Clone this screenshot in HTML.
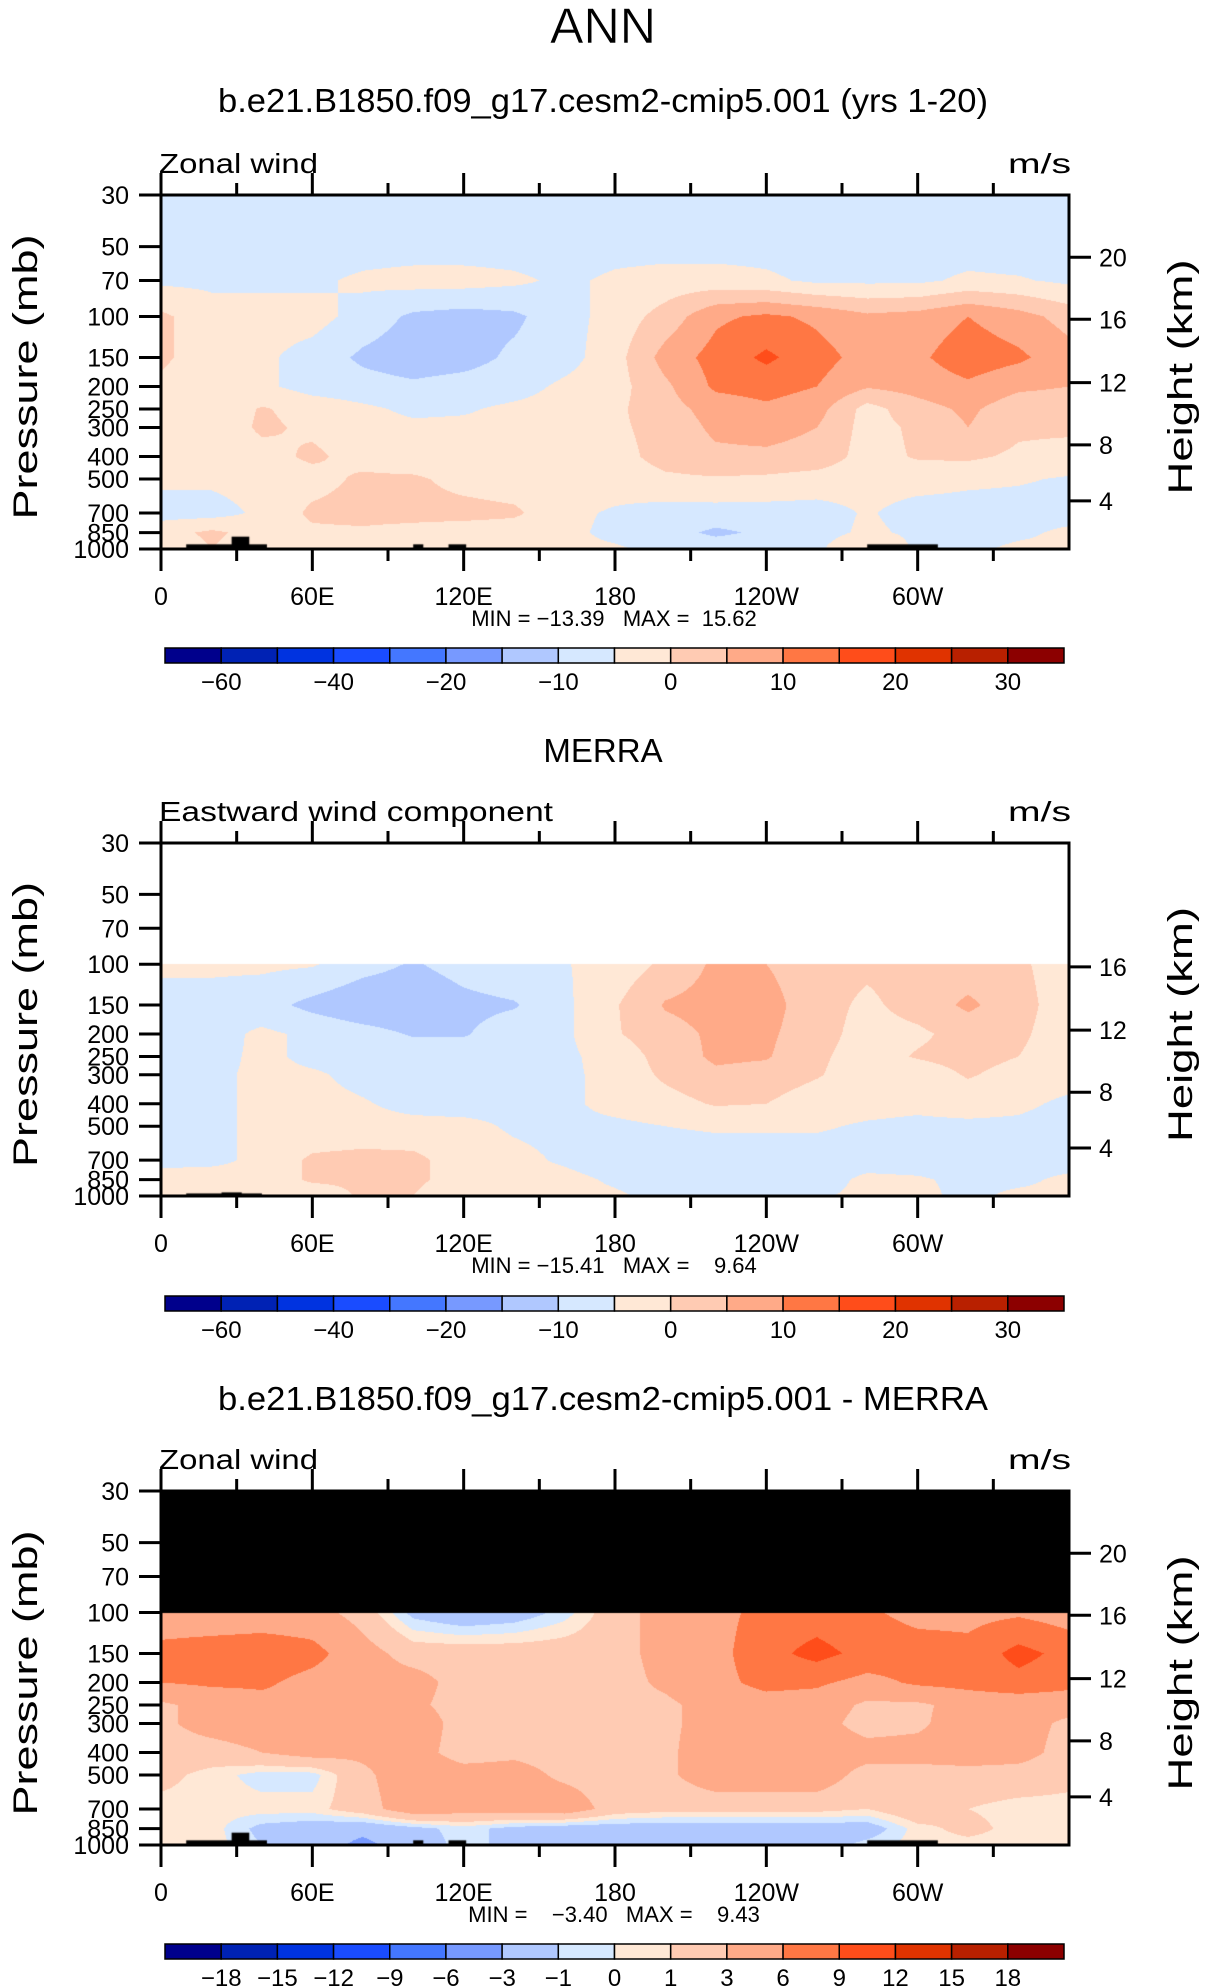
<!DOCTYPE html>
<html><head><meta charset="utf-8">
<style>
html,body{margin:0;padding:0;background:#fff;}
#root{position:relative;width:1206px;height:1987px;overflow:hidden;background:#fff;}
canvas{position:absolute;}
svg{position:absolute;left:0;top:0;}
text{font-family:"Liberation Sans",sans-serif;fill:#000;}
</style></head>
<body>
<div id="root">
<canvas id="c1"></canvas>
<canvas id="c2"></canvas>
<canvas id="c3"></canvas>
<svg id="ov" width="1206" height="1987" xmlns="http://www.w3.org/2000/svg"></svg>
</div>
<script>
// ---------- data ----------
const lons = [0,20,40,60,80,100,120,140,160,180,200,220,240,260,280,300,320,340,360];
const p1Levels = [30,50,70,100,150,200,250,300,400,500,700,850,1000];
const p1Values = [
 [-3,-3,-3,-3,-3,-3,-3,-3,-3,-3,-3,-3,-3,-3,-3,-3,-3,-3,-3],
 [-3,-3,-3,-3,-2.5,-2.5,-2.5,-2.5,-3,-2,-2,-2,-2,-3,-3,-3,-2.5,-3,-3],
 [-1,-1,-1,-1,1,2,2,1,-1,1,2,2,1,-1,-1,-1,1,0.5,-1],
 [6,2,2,2,-2,-6,-7,-6,-2,2,7,14,16,14,11,12,15,12,8],
 [6,2,1,-2,-6,-8,-7,-4,-2,3,12,17,21,17,13,14,18,16,12],
 [4,1,1,-2,-3,-4,-3,-2,1,3,9,16,17,15,10.5,12,14,11,10],
 [2,1,5.5,3,1,-1,-0.5,1,2,4,8,12,14,12,3,8,11,7,7],
 [2,1,6,4,2,1,1,1,2,4,7,11,12,10,3,6,10,6,6],
 [2,1,3,6,3,1,1,2,2,3,7,9,9,8,3,5.5,6,4,3],
 [1,1,2,3,6,6,3,2,2,2,4,4.5,4,3,2,2,1,0.5,-0.5],
 [-2,-2,1,6,7,7,7,6,1,-0.5,-2,-2,-2,-2,0.5,-2,-2,-2,-2],
 [3,6,3,4,4,3,2,2,1,-1,-3,-6,-4,-2,1,-1,-2,-1,1],
 [1,5,2,2,2,1,1,1,1,0.5,-1,-2,-2,-1,5.5,-1,-1,1,1]
];
const p2Levels = [100,150,200,250,300,400,500,700,850,1000];
const p2Values = [
 [1,1,1,0.5,-3,-5.5,-3,-1,-0.3,2,6,11,10,7,6,7,7,6,2],
 [-2,-2,-3,-6.5,-9,-9,-6.5,-5.5,-1,4.5,10.5,12,12,7,4,7,11,7,2],
 [-2,-2,1,-1,-3,-5.5,-5.5,-2,-1,4.5,8,11,11,7,3,4,7,6,2],
 [-2,-1.5,1,-1,-1,-2,-2,-2,-1,2,7,11,10.5,6,2.5,5.5,7,5,2],
 [-2,-1,1,0.5,-1,-2,-2,-2,-1,1.5,6,9,8,5.5,2,2,5.5,3,2],
 [-1.5,-1,1,1,0.3,-1,-1.5,-1,-1,1.5,3,5.5,5,2,1.5,1,2,1,-1],
 [-2,-1,1,1,1,1,1,-0.5,-1,-1,0,0.5,0.5,0.5,-0.5,-1,-1,-1,-2],
 [-2,-1,1,6,7,6.5,2,1,-0.5,-2,-2,-2,-2,-2,-2,-2,-2,-2,-2],
 [3,2,1,6,6,6,3,1,1,-0.5,-2,-2,-2,-2,1,0.5,-1,-1,1],
 [3,3,1,1,6,5,1,1,1,0.5,-1,-1,-1,-0.5,1,1,-1,1,1]
];
const p3Levels = [100,150,200,250,300,400,500,700,850,1000];
const p3Values = [
 [4,4,4,4,2,-1.5,-2.5,-2,-0.5,2,4,5,7,7.5,6.5,5,5,5.5,4.5],
 [7,7.5,8,7,4,2,2,2,2,2,4,5,8,10,8,7.5,7,10,8],
 [6,6.5,6.5,5,4,4,2,2,2,2,3.5,5,7,6.5,5,6.5,7,8,7],
 [2.5,4,5,5.5,4.5,3.5,2,2,2,2,2.5,4,4.5,4.5,2.5,2.5,4,4,4],
 [2.5,4,4.5,5,5,4.5,2,2,2,2,2.5,4,4,4,2,2.5,4.5,4,2.5],
 [2,2,3,4,3.5,4,2,2.5,2,2,2.5,4.5,4.5,4.5,4,4,4.5,4,2],
 [1.5,0.5,-0.5,-0.5,2.5,4.5,4,4,2.5,2,2.5,4.5,4.5,4.5,2,2,2,2,1.5],
 [0.5,0.5,0.5,0.5,2,4.5,4,4,4.5,2,1.5,1.5,1.5,1.5,1,2.5,1,0.5,0.5],
 [1,0.5,-1.5,-2,-2.5,-1.5,-0.5,-1.5,-2,-2,-2,-2,-2,-2,-2,0.5,1.5,0.5,0.5],
 [0.5,0.5,-1,-2,-3.5,-2,-0.5,-1.5,-2,-2,-2,-2,-2.5,-2,-0.5,0.5,0.5,0.5,0.5]
];
const absBounds = [-50,-40,-30,-20,-15,-10,-5,0,5,10,15,20,25,30,40];
const absLabels = ["-60","","-40","","-20","","-10","","0","","10","","20","","30"];
const diffBounds = [-18,-15,-12,-9,-6,-3,-1,0,1,3,6,9,12,15,18];
const diffLabels = ["-18","-15","-12","-9","-6","-3","-1","0","1","3","6","9","12","15","18"];
const topoLon0 = [10,28,100,114,280,2,24];
const topoLon1 = [42,35,104,121,308,0,0];
const topoTopP = [955,885,955,955,955,0,0];
const pTicks = [30,50,70,100,150,200,250,300,400,500,700,850,1000];
const kmTicks = [20,16,12,8,4];
const kmFrac = [0.176,0.351,0.53,0.706,0.864];
const xTickLabels = ["0","60E","120E","180","120W","60W"];
// ---------- styles ----------
const cmap = ["#00008c","#0022b4","#0033e0","#1a4cff","#4477ff","#7799ff","#b0c8ff","#d6e8ff","#ffe8d6","#ffcbb3","#ffaa88","#ff7744","#ff4d1a","#e03300","#b82000","#8c0000"];
const X0=161, X1=1069, W=X1-X0;
const panels=[
 {id:'c1',top:195,bot:549,levels:p1Levels,vals:p1Values,bounds:absBounds,labels:absLabels,mask:null,topo:[0,1,2,3,4],
  title:"b.e21.B1850.f09_g17.cesm2-cmip5.001 (yrs 1-20)",titleY:112,left:"Zonal wind",minmax:"MIN = \u221213.39   MAX =  15.62",cbTop:648,km:[0,1,2,3,4]},
 {id:'c2',top:843,bot:1196,levels:p2Levels,vals:p2Values,bounds:absBounds,labels:absLabels,mask:'#ffffff',topo:[5,6],
  title:"MERRA",titleY:762,left:"Eastward wind component",minmax:"MIN = \u221215.41   MAX =    9.64",cbTop:1296,km:[1,2,3,4]},
 {id:'c3',top:1491,bot:1845,levels:p3Levels,vals:p3Values,bounds:diffBounds,labels:diffLabels,mask:'#000000',topo:[0,1,2,3,4],
  title:"b.e21.B1850.f09_g17.cesm2-cmip5.001 - MERRA",titleY:1410,left:"Zonal wind",minmax:"MIN =    \u22123.40   MAX =    9.43",cbTop:1944,km:[0,1,2,3,4]}
];
const LN=Math.log(1000/30);
function yOf(P,p){return P.top+(P.bot-P.top)*Math.log(p/30)/LN;}
function pOf(P,y){return 30*Math.exp((y-P.top)/(P.bot-P.top)*LN);}
function xOf(lon){return X0+W*lon/360;}
function val(P,lon,p){
  const L=P.levels; if(p<L[0]) return null;
  let j=0; while(j<L.length-2 && p>L[j+1]) j++;
  let t=(Math.log(p)-Math.log(L[j]))/(Math.log(L[j+1])-Math.log(L[j])); t=Math.max(0,Math.min(1,t));
  let fi=lon/20; let i=Math.min(17,Math.floor(fi)); let s=fi-i;
  const a=P.vals[j][i],b=P.vals[j][i+1],c=P.vals[j+1][i],d=P.vals[j+1][i+1];
  return (a*(1-s)+b*s)*(1-t)+(c*(1-s)+d*s)*t;
}
function colorIdx(B,v){let k=0;while(k<B.length&&v>=B[k])k++;return k;}
const rgb=cmap.map(h=>[parseInt(h.substr(1,2),16),parseInt(h.substr(3,2),16),parseInt(h.substr(5,2),16)]);
panels.forEach(P=>{
  const cv=document.getElementById(P.id);
  const w=W, h=P.bot-P.top;
  cv.width=w; cv.height=h; cv.style.left=X0+'px'; cv.style.top=P.top+'px';
  const ctx=cv.getContext('2d'); const img=ctx.createImageData(w,h);
  for(let y=0;y<h;y++){const p=pOf(P,P.top+y+0.5);
    for(let x=0;x<w;x++){const lon=(x+0.5)/w*360; const v=val(P,lon,p); const o=(y*w+x)*4;
      let c; if(v===null){c=P.mask==='#000000'?[0,0,0]:[255,255,255];} else c=rgb[colorIdx(P.bounds,v)];
      img.data[o]=c[0];img.data[o+1]=c[1];img.data[o+2]=c[2];img.data[o+3]=255;}}
  ctx.putImageData(img,0,0);
  ctx.fillStyle='#000';
  P.topo.forEach(k=>{
    let l0=topoLon0[k],l1=topoLon1[k],tp=topoTopP[k];
    if(P.id==='c2'){ if(k===5){l0=10;l1=40;tp=975;} else {l0=24;l1=32;tp=965;} }
    const y=yOf(P,tp)-P.top; ctx.fillRect(xOf(l0)-X0,y,xOf(l1)-xOf(l0),h-y);
  });
});
// ---------- overlay ----------
const NS="http://www.w3.org/2000/svg"; const ov=document.getElementById('ov');
function el(tag,attrs,parent){const e=document.createElementNS(NS,tag);for(const k in attrs)e.setAttribute(k,attrs[k]);(parent||ov).appendChild(e);return e;}
function txt(s,attrs,parent){const e=el('text',attrs,parent);e.textContent=s;return e;}
const t0=txt("ANN",{x:603,y:43,'font-size':50,'text-anchor':'middle','textLength':106,'lengthAdjust':'spacingAndGlyphs','font-weight':'normal',stroke:'#fff','stroke-width':0.6});


panels.forEach((P,pi)=>{
  const g=el('g',{});
  
  
  const tt=txt(P.title,{x:603,y:P.titleY,'font-size':33,'text-anchor':'middle'},g);
  if(pi!==1){tt.setAttribute('textLength',770);tt.setAttribute('lengthAdjust','spacingAndGlyphs');}
  
  
  const lt=txt(P.left,{x:159,y:P.top-22,'font-size':28,textLength:P.left.length>12?394:159,lengthAdjust:'spacingAndGlyphs'},g);
  
  
  const ut=txt("m/s",{x:1071,y:P.top-22,'font-size':28,'text-anchor':'end',textLength:63,lengthAdjust:'spacingAndGlyphs'},g);
  
  
  const bx=el('rect',{x:X0,y:P.top,width:W,height:P.bot-P.top,fill:'none',stroke:'#000','stroke-width':3},g);
  
  
  for(let lon=0;lon<=330;lon+=30){const x=xOf(lon);const L=(lon%60===0)?22:12;
    const a=el('line',{x1:x,x2:x,y1:P.top,y2:P.top-L,stroke:'#000','stroke-width':3},g);
    
    
    const b=el('line',{x1:x,x2:x,y1:P.bot,y2:P.bot+L,stroke:'#000','stroke-width':3},g);
    
    }
  xTickLabels.forEach((s,i)=>{const t=txt(s,{x:xOf(i*60),y:P.bot+56,'font-size':25,'text-anchor':'middle'},g);
    
    });
  pTicks.forEach(p=>{const y=yOf(P,p);
    const l=el('line',{x1:X0,x2:X0-22,y1:y,y2:y,stroke:'#000','stroke-width':3},g);
    
    
    const t=txt(String(p),{x:X0-32,y:y+9,'font-size':25,'text-anchor':'end'},g);
    
    });
  P.km.forEach(k=>{const y=P.top+(P.bot-P.top)*kmFrac[k];
    const l=el('line',{x1:X1,x2:X1+22,y1:y,y2:y,stroke:'#000','stroke-width':3},g);
    
    
    const t=txt(String(kmTicks[k]),{x:X1+30,y:y+9,'font-size':25},g);
    
    });
  const cy=(P.top+P.bot)/2+5;
  const yt=txt("Pressure  (mb)",{x:0,y:0,'font-size':34,'text-anchor':'middle',transform:`translate(37,${cy}) rotate(-90)`,textLength:285,lengthAdjust:'spacingAndGlyphs'},g);
  
  
  const rt=txt("Height  (km)",{x:0,y:0,'font-size':34,'text-anchor':'middle',transform:`translate(1192,${cy}) rotate(-90)`,textLength:235,lengthAdjust:'spacingAndGlyphs'},g);
  
  
  const mm=txt(P.minmax,{x:614,y:P.bot+77,'font-size':22,'text-anchor':'middle','xml:space':'preserve',style:'white-space:pre'},g);
  
  
  const cw=(1064-165)/16;
  cmap.forEach((c,i)=>{const r=el('rect',{x:165+i*cw,y:P.cbTop,width:cw,height:15,fill:c,stroke:'#000','stroke-width':1.5},g);
    
    });
  P.labels.forEach((s,i)=>{if(!s)return;const t=txt(s.replace('-','\u2212'),{x:165+(i+1)*cw,y:P.cbTop+42,'font-size':24,'text-anchor':'middle'},g);
    
    });
});
</script>
</body></html>
